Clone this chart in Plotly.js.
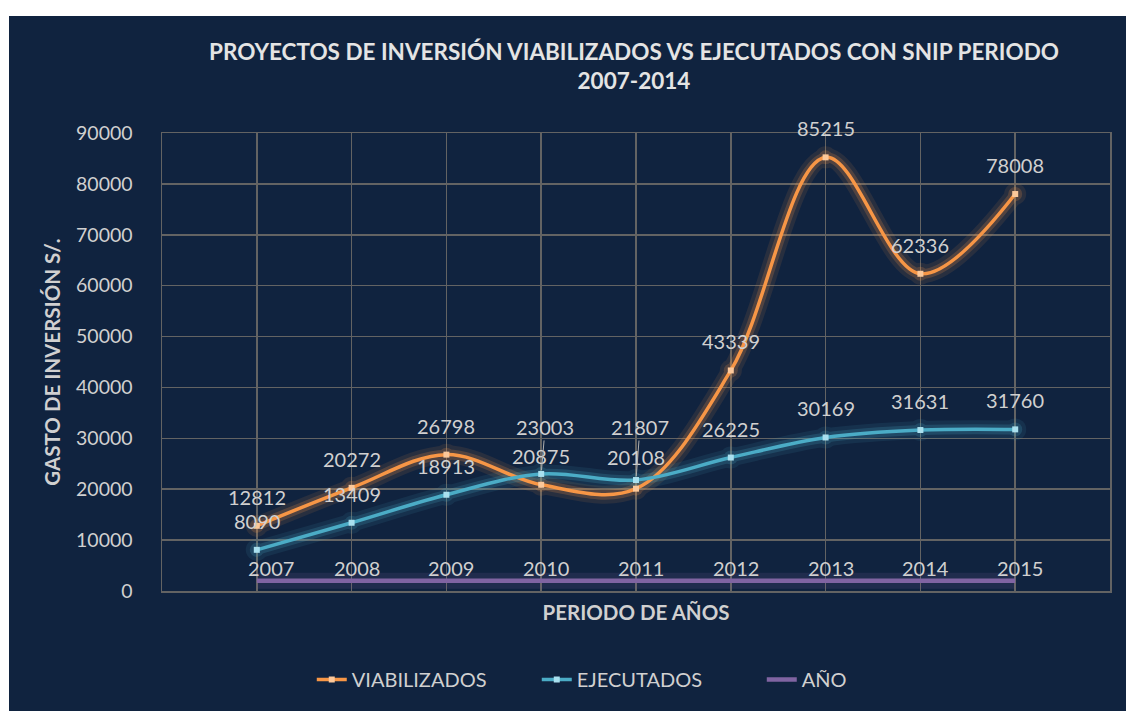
<!DOCTYPE html>
<html>
<head>
<meta charset="utf-8">
<script src="https://cdn.plot.ly/plotly-3.0.1.min.js"></script>
<style>
  html, body { margin: 0; padding: 0; background: #ffffff; width: 1126px; height: 711px; overflow: hidden; }
  #chart { position: absolute; left: 9px; top: 16px; width: 1117px; height: 695px; }
</style>
</head>
<body>
<div id="chart"></div>
<script>
// ---- data ----
const years = ['2007', '2008', '2009', '2010', '2011', '2012', '2013', '2014', '2015'];
const viabilizados = [12812, 20272, 26798, 20875, 20108, 43339, 85215, 62336, 78008];
const ejecutados = [8090, 13409, 18913, 23003, 21807, 26225, 30169, 31631, 31760];
const anio = [2007, 2008, 2009, 2010, 2011, 2012, 2013, 2014, 2015];

const seriesNames = ['VIABILIZADOS', 'EJECUTADOS', 'AÑO'];

// ---- styles ----
const FONT = 'Lato, "Open Sans", sans-serif';
const BG = '#10233f';
const TXT = '#d0d0d0';
const GRID = '#636363';
const cOrange = '#f79646', cBlue = '#4bacc6', cPurple = '#8064a2';

// label placement tweaks (pixels above the point) for labels moved away with a leader line
const ejecLabelLift = { 3: 47, 4: 53 };
const viabLabelLift = { 4: 32 };

function glow(y, color, width, opacity, msize) {
  return {
    x: years, y: y, type: 'scatter', mode: msize ? 'lines+markers' : 'lines',
    line: { color: color, width: width, shape: 'spline', smoothing: 1 },
    marker: { color: color, size: msize || 1 },
    opacity: opacity, showlegend: false, hoverinfo: 'skip'
  };
}

const traces = [
  glow(viabilizados, cOrange, 18, 0.10, 22),
  glow(viabilizados, cOrange, 10, 0.20, 14),
  glow(ejecutados, cBlue, 18, 0.10, 22),
  glow(ejecutados, cBlue, 10, 0.20, 14),
  glow(anio, cPurple, 16, 0.15),
  {
    x: years, y: viabilizados, name: seriesNames[0], type: 'scatter', mode: 'lines+markers',
    line: { color: cOrange, width: 3.5, shape: 'spline', smoothing: 1 },
    marker: { color: '#fcc89a', size: 6, symbol: 'square' }
  },
  {
    x: years, y: ejecutados, name: seriesNames[1], type: 'scatter', mode: 'lines+markers',
    line: { color: cBlue, width: 3.5, shape: 'spline', smoothing: 1 },
    marker: { color: '#a9e0ef', size: 6, symbol: 'square' }
  },
  {
    x: years, y: anio, name: seriesNames[2], type: 'scatter', mode: 'lines',
    line: { color: cPurple, width: 4.5 }
  }
];

const annotations = [];
const labFont = { family: FONT, size: 20, color: TXT };
function label(i, val, lift, xshift) {
  if (lift && lift > 40) {
    // label lifted away from its point, joined to it by a thin leader line
    return { x: i, y: val, text: String(val), showarrow: true, arrowhead: 0, arrowwidth: 1,
             arrowcolor: '#b0b0b0', ax: xshift || 0, ay: -lift, standoff: 4, font: labFont };
  }
  return { x: i, y: val, text: String(val), showarrow: false, yshift: lift || 29, xshift: xshift || 0, font: labFont };
}
years.forEach((yr, i) => {
  // category axes take the serial index of the category
  annotations.push(label(i, viabilizados[i], viabLabelLift[i]));
  annotations.push(label(i, ejecutados[i], ejecLabelLift[i], ejecLabelLift[i] ? 4 : 0));
  annotations.push({ x: i, y: anio[i], text: String(anio[i]), showarrow: false, yshift: 13, xshift: i === 0 ? 14 : 5, font: labFont });
});

const layout = {
  width: 1117, height: 695,
  paper_bgcolor: BG, plot_bgcolor: BG,
  margin: { l: 153, r: 16, t: 117, b: 118 },
  font: { family: FONT, color: TXT },
  title: {
    text: '<b>PROYECTOS DE INVERSIÓN VIABILIZADOS VS EJECUTADOS CON SNIP PERIODO<br>2007-2014</b>',
    font: { family: FONT, size: 22.5, color: '#e4e4e4' },
    x: 0.5595, xanchor: 'center', xref: 'container',
    y: 1 - 44 / 695, yanchor: 'middle', yref: 'container'
  },
  xaxis: {
    type: 'category', range: [-1, 9],
    showticklabels: false, ticks: '',
    showgrid: true, gridcolor: GRID, gridwidth: 1.5,
    showline: true, linecolor: GRID, linewidth: 1.5, mirror: true,
    zeroline: false,
    title: { text: '<b>PERIODO DE AÑOS</b>', font: { family: FONT, size: 20.5, color: TXT }, standoff: 14 }
  },
  yaxis: {
    range: [0, 90000], dtick: 10000, tickformat: 'd',
    tickfont: { family: FONT, size: 19.5, color: TXT },
    ticks: '', ticklabelstandoff: 24,
    showgrid: true, gridcolor: GRID, gridwidth: 1.5,
    showline: true, linecolor: GRID, linewidth: 1.5, mirror: true,
    zeroline: false,
    title: { text: '<b>GASTO DE INVERSIÓN S/.</b>', font: { family: FONT, size: 20.5, color: TXT }, standoff: 10 }
  },
  legend: {
    orientation: 'h', x: 0.514, xanchor: 'center', y: -0.193, yanchor: 'middle',
    font: { family: FONT, size: 20, color: TXT }, bgcolor: 'rgba(0,0,0,0)',
    entrywidth: 180, entrywidthmode: 'pixels'
  },
  annotations: annotations,
  showlegend: true
};

Plotly.newPlot('chart', traces, layout, { displayModeBar: false, staticPlot: true });
</script>
</body>
</html>
